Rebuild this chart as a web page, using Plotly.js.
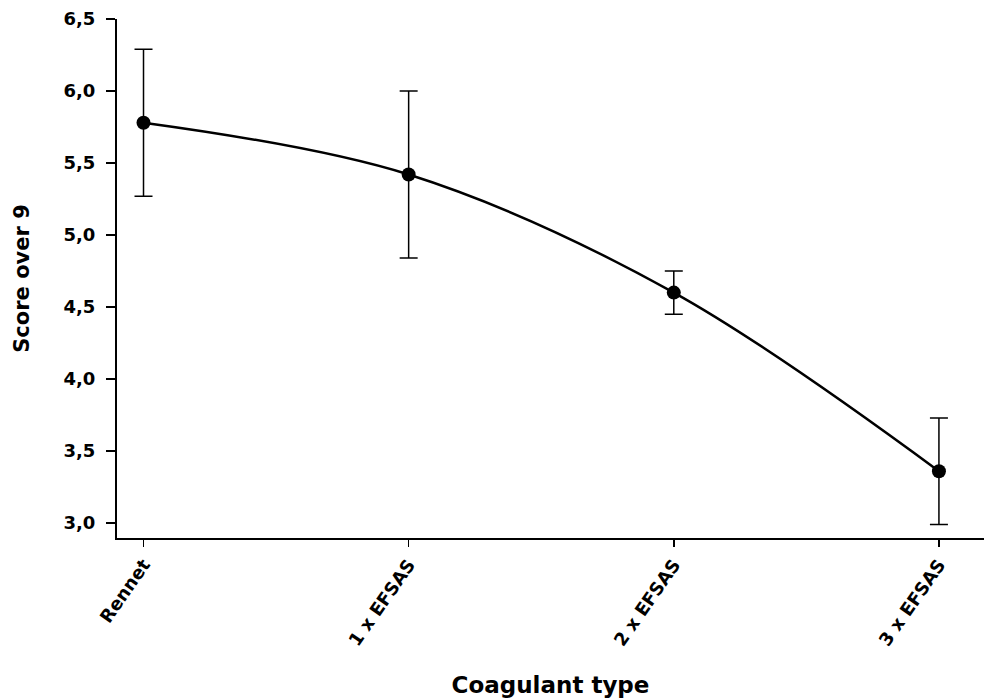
<!DOCTYPE html>
<html>
<head>
<meta charset="utf-8">
<script src="https://cdn.plot.ly/plotly-3.0.1.min.js"></script>
<style>html,body{margin:0;padding:0;background:#fff;}#chart{width:984px;height:700px;}</style>
</head>
<body>
<div id="chart"></div>
<script>
const categories = ["Rennet", "1 x EFSAS", "2 x EFSAS", "3 x EFSAS"];
const scores = [5.78, 5.42, 4.60, 3.36];
const errors = [0.51, 0.58, 0.15, 0.37];
const yTickVals = [3.0, 3.5, 4.0, 4.5, 5.0, 5.5, 6.0, 6.5];

const idx = categories.map((c, i) => i);

const trace = {
  x: idx,
  y: scores,
  type: 'scatter',
  mode: 'lines+markers',
  line: {color: '#000', width: 2.5, shape: 'spline', smoothing: 1},
  marker: {color: '#000', size: 14},
  error_y: {type: 'data', array: errors, visible: true, color: '#000', thickness: 1.5, width: 9},
  showlegend: false
};

const font = 'DejaVu Sans, sans-serif';
const layout = {
  width: 984, height: 700,
  margin: {l: 117, r: 0, t: 19, b: 162},
  paper_bgcolor: '#fff', plot_bgcolor: '#fff',
  separators: ',.',
  font: {family: font, color: '#000'},
  xaxis: {
    range: [-0.1, 3.17],
    tickvals: idx,
    ticktext: categories,
    tickangle: -55,
    ticks: 'outside', ticklen: 7, tickwidth: 1.5, tickcolor: '#000',
    showline: true, linecolor: '#000', linewidth: 2,
    showgrid: false, zeroline: false,
    tickfont: {family: font, size: 18, color: '#000', weight: 'bold'},
    title: {text: '<b>Coagulant type</b>', font: {family: font, size: 23, color: '#000'}, standoff: 28}
  },
  yaxis: {
    range: [2.896, 6.5],
    tickvals: yTickVals,
    tickformat: '.1f',
    ticks: 'outside', ticklen: 9, tickwidth: 1.5, tickcolor: '#000',
    ticklabelstandoff: 7,
    showline: true, linecolor: '#000', linewidth: 2,
    showgrid: false, zeroline: false,
    tickfont: {family: font, size: 18, color: '#000', weight: 'bold'},
    title: {text: '<b>Score over 9</b>', font: {family: font, size: 21, color: '#000'}, standoff: 28}
  }
};

Plotly.newPlot('chart', [trace], layout, {displayModeBar: false, staticPlot: true});
</script>
</body>
</html>
